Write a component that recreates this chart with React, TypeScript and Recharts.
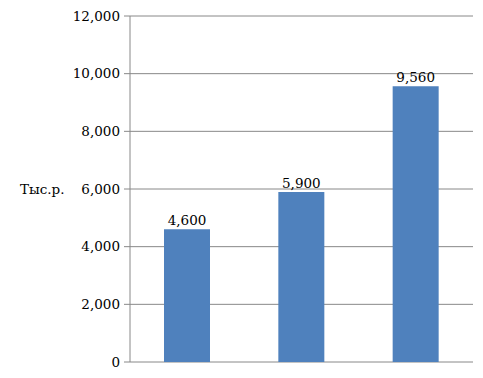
import React from 'react';
import { BarChart, Bar, XAxis, YAxis, CartesianGrid, LabelList, Label } from 'recharts';

const categories = ['A', 'B', 'C'];
const values = [4600, 5900, 9560];
const yTicks = [0, 2000, 4000, 6000, 8000, 10000, 12000];

const data = categories.map((c, i) => ({ name: c, value: values[i] }));

const fmt = (v: number) => v.toLocaleString('en-US');
const font = "'DejaVu Serif', serif";
const fs = 13.5;

export default function App() {
  return (
    <div style={{ position: 'absolute', left: 0, top: 0, background: '#fff', fontFamily: font }}>
      <BarChart
        width={483}
        height={378}
        data={data}
        margin={{ top: 16, right: 10, bottom: 16, left: 0 }}
        barCategoryGap={0}
      >
        <CartesianGrid vertical={false} stroke="#888888" />
        <XAxis dataKey="name" hide />
        <YAxis
          width={130}
          domain={[0, 12000]}
          ticks={yTicks}
          interval={0}
          tickFormatter={fmt}
          tickSize={6}
          tickMargin={4}
          stroke="#888888"
          tick={{ fill: '#000', fontSize: fs, fontFamily: font }}
        >
          <Label
            value="Тыс.р."
            position="insideLeft"
            offset={20}
            fill="#000"
            fontSize={fs}
            fontFamily={font}
          />
        </YAxis>
        <Bar dataKey="value" fill="#4F81BD" barSize={46} isAnimationActive={false}>
          <LabelList
            dataKey="value"
            position="top"
            offset={4}
            formatter={(v: any) => fmt(Number(v))}
            fill="#000"
            fontSize={fs}
            fontFamily={font}
          />
        </Bar>
      </BarChart>
    </div>
  );
}
